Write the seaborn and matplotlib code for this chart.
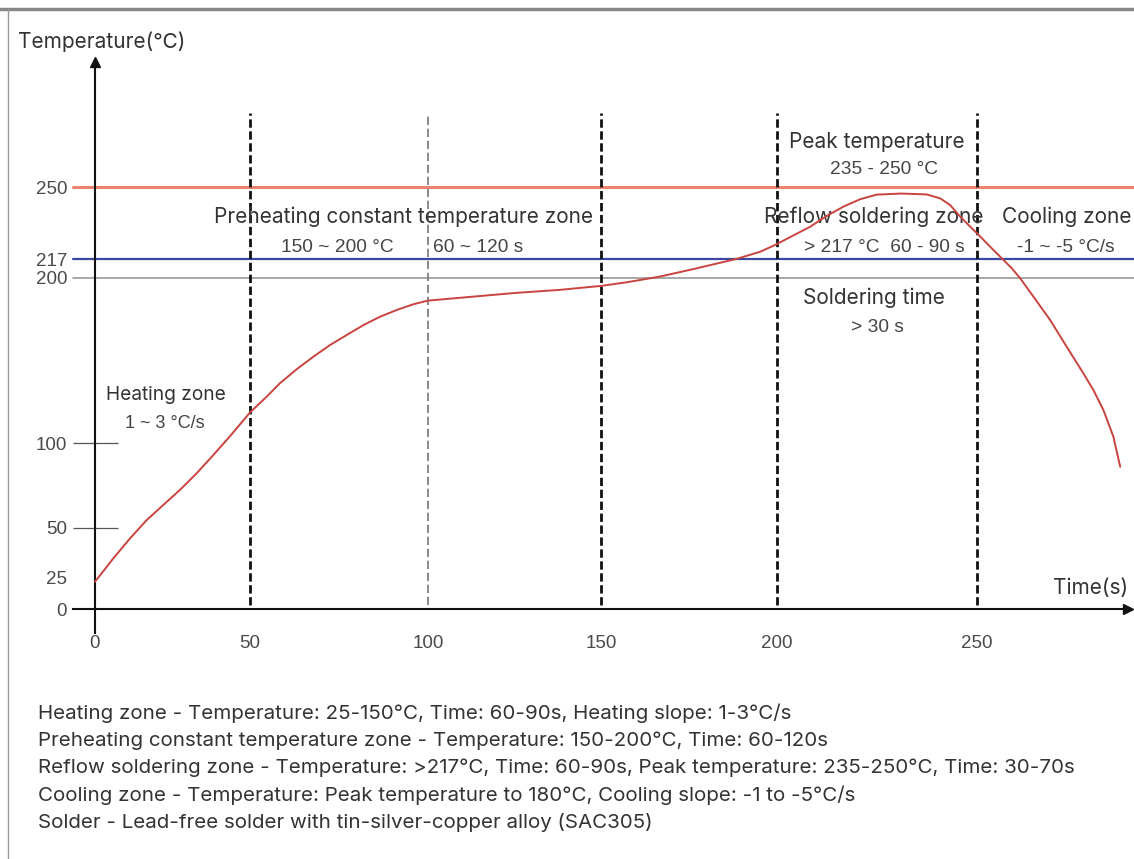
import numpy as np
import matplotlib
matplotlib.use("Agg")
import matplotlib.pyplot as plt
import seaborn as sns
from matplotlib.lines import Line2D

# reflow profile (time in s, temperature in C)
time_s = [0, 5.9, 11.3, 16.7, 22, 27.4, 32.8, 38.2, 43.5, 50, 54.7, 58.4,
          63.1, 67.8, 72.5, 77.2, 81.9, 86.5, 91.2, 95.9, 100, 125, 138, 150,
          157.3, 166.6, 176, 188.4, 195.2, 199.4, 208.3, 212.4, 216.6, 220.8,
          224.9, 231, 237.4, 240.8, 243.3, 245.8, 248.3, 250, 253.3, 256.2,
          258.7, 260.8, 264.1, 268.3, 272.4, 276.6, 279.1, 281.6, 284.1, 285.8]
temp_c = [21.3, 34.5, 44.7, 54.7, 63.5, 72.4, 82.2, 93, 104, 118.5, 128.1, 136.2,
          144.7, 152.3, 159.4, 165.5, 171.5, 176.5, 180.6, 184.1, 186.3, 190.9, 192.8, 195.2,
          197.4, 201.2, 207.8, 217, 220.3, 223.4, 231.8, 236.7, 241, 244.4,
          246.5, 247, 246.6, 244.8, 241.7, 236.4, 231.8, 228.8, 222.6, 217.3,
          208.7, 199.8, 188.7, 174.5, 158.4, 142.2, 132.1, 120, 103.8, 86]

x_ticks = [0, 50, 100, 150, 200, 250]
y_ticks = [0, 25, 50, 100, 200, 217, 250]
zone_bounds = [50, 100, 150, 200, 250]

notes = [
    "Heating zone - Temperature: 25-150°C, Time: 60-90s, Heating slope: 1-3°C/s",
    "Preheating constant temperature zone - Temperature: 150-200°C, Time: 60-120s",
    "Reflow soldering zone - Temperature: >217°C, Time: 60-90s, Peak temperature: 235-250°C, Time: 30-70s",
    "Cooling zone - Temperature: Peak temperature to 180°C, Cooling slope: -1 to -5°C/s",
    "Solder - Lead-free solder with tin-silver-copper alloy (SAC305)",
]

W, H = 1134, 859

# the original drawing uses an uneven (schematic) spacing of the ticks,
# so both axes get a piecewise linear scale
xs_data = [-10, 0, 50, 100, 150, 200, 250, 300]
xs_pix = [64, 95, 250, 428, 601, 777, 977, 1177]
ys_data = [-30, 0, 25, 50, 100, 200, 217, 250, 330]
ys_pix = [H - p for p in [647.4, 609, 577, 528, 443, 278, 259, 187, 12.4]]


def fwd_x(v):
    return np.interp(v, xs_data, xs_pix)


def inv_x(p):
    return np.interp(p, xs_pix, xs_data)


def fwd_y(v):
    return np.interp(v, ys_data, ys_pix)


def inv_y(p):
    return np.interp(p, ys_pix, ys_data)


sns.set_style("white")
plt.rcParams['font.family'] = ['Inter', 'DejaVu Sans']
num_font = ['Liberation Sans', 'DejaVu Sans']

fig = plt.figure(figsize=(W / 100, H / 100), dpi=100)
ax = fig.add_axes([73 / W, 1 - 633 / H, (1128 - 73) / W, (633 - 62) / H])
ax.set_xscale('function', functions=(fwd_x, inv_x))
ax.set_yscale('function', functions=(fwd_y, inv_y))
ax.set_xlim(inv_x(73), inv_x(1128))
ax.set_ylim(inv_y(H - 633), inv_y(H - 62))

# axes through the origin, with arrow heads
for side in ['top', 'right']:
    ax.spines[side].set_visible(False)
ax.spines['left'].set_position(('data', 0))
ax.spines['bottom'].set_position(('data', 0))
for side in ['left', 'bottom']:
    ax.spines[side].set_color('#111111')
    ax.spines[side].set_linewidth(1.5)
ax.plot(1, 0, '>', color='#111111', ms=7, transform=ax.get_yaxis_transform(), clip_on=False)
ax.plot(0, 1, '^', color='#111111', ms=7, transform=ax.get_xaxis_transform(), clip_on=False)

ax.set_xticks(x_ticks)
ax.set_yticks(y_ticks)
ax.set_xticklabels([str(v) for v in x_ticks], family=num_font, fontsize=13.5, color='#4a4a4a')
ax.set_yticklabels([str(v) for v in y_ticks], family=num_font, fontsize=13.5, color='#4a4a4a')
ax.tick_params(axis='x', length=0, pad=19)
ax.tick_params(axis='y', length=0, pad=20)
ax.set_xlabel('')
ax.set_ylabel('')

# reference temperatures
x_end = (W - 73) / (1128 - 73)
ax.axhline(250, xmin=0, xmax=x_end, color='#ea8470', lw=2.2, clip_on=False, zorder=2)
ax.axhline(217, xmin=0, xmax=x_end, color='#3b47a3', lw=1.6, clip_on=False, zorder=2)
ax.axhline(200, xmin=0, xmax=x_end, color='#9a9a9a', lw=1.2, clip_on=False, zorder=2)
ax.hlines([50, 100], inv_x(73), inv_x(118), color='#555555', lw=0.9)

# zone boundaries
for t in zone_bounds:
    if t == 100:
        ax.vlines(t, 3, 284, color='#777777', lw=1.2, linestyles=(0, (5, 2.2)), zorder=3)
    else:
        ax.vlines(t, 3, 284, color='#111111', lw=2, linestyles=(0, (3, 1.3)), zorder=3)

sns.lineplot(x=time_s, y=temp_c, ax=ax, color='#c9433f', lw=1.4, zorder=4)

# zone annotations
big = dict(fontsize=15, color='#333333', ha='center', va='center')
small = dict(fontsize=13.8, color='#444444', ha='center', va='center', family=num_font)
ax.text(22.8, 129, 'Heating zone', **dict(big, fontsize=13.8))
ax.text(22.4, 112, '1 ~ 3 °C/s', **dict(small, fontsize=13))
ax.text(93.1, 236.3, 'Preheating constant temperature zone', **big)
ax.text(74.6, 222.5, '150 ~ 200 °C', **small)
ax.text(101.5, 222.5, '60 ~ 120 s', **dict(small, ha='left'))
ax.text(225, 270.6, 'Peak temperature', **big)
ax.text(226.8, 257.8, '235 - 250 °C', **small)
ax.text(224.3, 236.3, 'Reflow soldering zone', **big)
ax.text(226.8, 222.5, '> 217 °C  60 - 90 s', **small)
ax.text(272.5, 236.3, 'Cooling zone', **big)
ax.text(272.3, 222.5, '-1 ~ -5 °C/s', **small)
ax.text(224.3, 187.9, 'Soldering time', **big)
ax.text(225, 170.3, '> 30 s', **small)
ax.text(287.75, 16.4, 'Time(s)', **dict(big, ha='right'))

fig.text(18 / W, 1 - 42 / H, 'Temperature(℃)', fontsize=15, color='#333333',
         ha='left', va='center', family=['Inter', 'DejaVu Sans'])

# description lines under the chart
for i, line in enumerate(notes):
    fig.text(38 / W, 1 - (713 + 27.5 * i) / H, line, fontsize=14.8, color='#333333',
             ha='left', va='center')

# picture frame
fig.add_artist(Line2D([0, 1], [1 - 9 / H] * 2, color='#888888', lw=2.5, transform=fig.transFigure))
fig.add_artist(Line2D([8 / W] * 2, [1 - 9 / H, 0], color='#999999', lw=1, transform=fig.transFigure))

fig.savefig('out.png', dpi=100)
